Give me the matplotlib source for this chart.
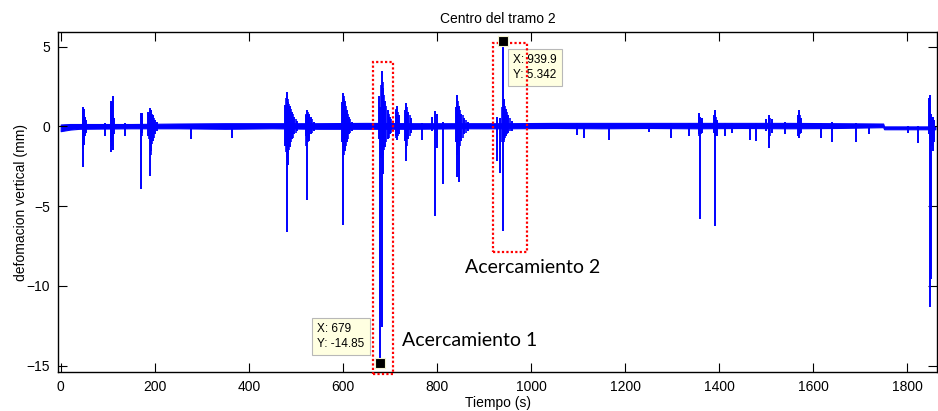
import matplotlib
matplotlib.use("Agg")
import matplotlib.pyplot as plt
from matplotlib.patches import Rectangle

# spikes: time (s), lowest and highest value (mm)
spike_t = [47, 49, 51, 54, 94, 106, 111, 113, 136, 170, 173, 186, 190, 193, 196, 200, 205,
           278, 364,
           478, 481, 484, 488, 492, 497, 503, 521, 523, 527, 532, 538,
           599, 601, 604, 608, 613, 620,
           676, 679, 683, 686, 690, 695, 700, 712, 715, 719, 732, 735, 739, 744,
           768, 790, 796, 800, 814, 840, 843, 848, 852, 858, 866,
           927, 935, 940, 943, 947, 952, 960,
           1097, 1113, 1165, 1250, 1297, 1337, 1357, 1359, 1363, 1390, 1392, 1396,
           1413, 1427, 1466, 1479, 1500, 1507, 1512, 1540, 1568, 1570, 1575,
           1616, 1641, 1692, 1718, 1802, 1823, 1847, 1849, 1851, 1855, 1858]
spike_lo = [-2.56, -1.14, -0.6, -0.4, -0.6, -1.6, -1.5, -0.5, -0.6, -3.9, -0.4, -0.6, -3.1, -1.56, -0.9, -0.5, -0.3,
            -0.8, -0.7,
            -1.2, -6.6, -2.4, -1.3, -0.8, -0.5, -0.3, -0.6, -4.6, -0.9, -0.5, -0.3,
            -1.0, -6.2, -1.56, -1.0, -0.5, -0.3,
            -0.8, -14.85, -12.6, -3.0, -1.3, -0.8, -0.5, -0.6, -0.83, -0.5, -0.9, -2.2, -0.8, -0.4,
            -0.83, -0.3, -5.6, -1.35, -3.64, -1.0, -3.2, -3.5, -0.9, -0.5, -0.3,
            -2.2, -2.9, -6.55, -0.83, -0.6, -0.4, -0.3,
            -0.52, -0.73, -0.83, -0.37, -0.73, -0.6, -0.5, -5.8, -0.4, -0.4, -6.25, -0.6,
            -0.6, -0.4, -0.83, -0.93, -0.3, -1.35, -0.4, -0.45, -0.6, -0.73, -0.4,
            -0.7, -0.98, -0.98, -0.45, -0.4, -1.04, -0.5, -11.3, -9.6, -1.56, -1.0]
spike_hi = [1.23, 1.1, 0.6, 0.4, 0.2, 1.6, 1.92, 0.5, 0.2, 0.85, 0.85, 0.9, 1.15, 1.0, 0.7, 0.4, 0.25,
            0.1, 0.1,
            1.35, 2.15, 1.5, 1.25, 0.9, 0.6, 0.35, 0.7, 1.04, 0.8, 0.6, 0.3,
            1.5, 2.09, 1.6, 1.0, 0.6, 0.3,
            1.9, 1.2, 3.5, 2.4, 1.6, 1.0, 0.6, 1.0, 1.3, 0.7, 1.0, 1.46, 0.9, 0.5,
            0.2, 0.6, 0.98, 0.8, 0.3, 1.2, 1.94, 1.3, 0.8, 0.5, 0.3,
            0.62, 0.5, 5.342, 1.73, 1.1, 0.7, 0.35,
            0.2, 0.15, 0.15, 0.15, 0.2, 0.2, 0.84, 0.6, 0.5, 0.7, 1.04, 0.4,
            0.2, 0.2, 0.15, 0.2, 0.45, 0.69, 0.45, 0.3, 0.7, 1.04, 0.5,
            0.2, 0.3, 0.2, 0.15, 0.0, 0.0, 1.8, 1.98, 0.8, 0.56, 0.4]

# smaller ringing after the big events
ring_t = [48, 50, 52, 108, 110, 112, 172, 188, 191, 192, 194, 198,
          480, 482, 483, 485, 486, 490, 494, 500, 522, 525, 529, 535,
          600, 602, 603, 606, 610, 616, 681, 685, 688, 692, 698, 703,
          714, 717, 734, 737, 742, 842, 845, 850, 855, 862, 939, 942, 945, 950, 956,
          1358, 1361, 1391, 1394, 1506, 1509, 1569, 1572, 1848, 1853]
ring_lo = [-1.4, -0.9, -0.5, -1.0, -1.2, -0.6, -0.6, -0.8, -1.8, -1.3, -1.1, -0.7,
           -1.6, -2.0, -1.7, -1.5, -1.2, -1.0, -0.7, -0.4, -1.2, -1.0, -0.7, -0.4,
           -1.3, -1.8, -1.4, -1.2, -0.8, -0.4, -2.0, -1.8, -1.5, -1.0, -0.7, -0.4,
           -0.7, -0.6, -1.4, -1.2, -0.6, -1.8, -1.5, -1.2, -0.7, -0.4, -1.0, -1.0, -0.7, -0.5, -0.3,
           -0.6, -0.5, -0.6, -0.5, -0.8, -0.6, -0.5, -0.5, -0.8, -1.2]
ring_hi = [1.0, 0.8, 0.5, 1.3, 1.5, 0.7, 0.6, 0.8, 1.0, 1.05, 0.8, 0.5,
           1.8, 1.9, 1.7, 1.4, 1.3, 1.1, 0.8, 0.45, 0.8, 0.9, 0.7, 0.45,
           1.8, 1.9, 1.7, 1.3, 0.8, 0.45, 2.6, 2.8, 2.0, 1.3, 0.8, 0.45,
           1.1, 0.9, 1.2, 1.2, 0.7, 1.5, 1.6, 1.0, 0.7, 0.4, 1.2, 1.5, 1.3, 0.9, 0.5,
           0.7, 0.5, 0.9, 0.6, 0.6, 0.55, 0.9, 0.7, 1.3, 0.6]

# noise band around zero
band_t = [0, 20, 40, 150, 250, 350, 450, 550, 650, 750, 850, 950, 1050, 1150, 1250,
          1350, 1450, 1550, 1650, 1749, 1751, 1860]
band_lo = [-0.3, -0.2, -0.15, -0.12, -0.12, -0.15, -0.12, -0.15, -0.15, -0.15, -0.12, -0.12,
           -0.1, -0.12, -0.1, -0.12, -0.1, -0.12, -0.1, -0.05, -0.18, -0.18]
band_hi = [0.12, 0.15, 0.15, 0.15, 0.18, 0.2, 0.2, 0.2, 0.22, 0.2, 0.2, 0.2,
           0.22, 0.22, 0.22, 0.22, 0.22, 0.22, 0.2, 0.18, 0.0, 0.0]

tips = [(679, -14.85), (939.9, 5.342)]

plt.rcParams['font.family'] = ['Liberation Sans', 'DejaVu Sans']
plt.rcParams['font.size'] = 10

fig = plt.figure(figsize=(9.38, 4.11), dpi=100)
ax = fig.add_axes([0.0622, 0.0949, 0.937, 0.8265])

ax.fill_between(band_t, band_lo, band_hi, color='blue', lw=0.8)
ax.vlines(ring_t, ring_lo, ring_hi, color='blue', lw=1.2)
ax.vlines(spike_t, spike_lo, spike_hi, color='blue', lw=1.4)

ax.set_xlim(-5, 1864)
ax.set_ylim(-15.4, 5.9)
ax.set_xticks(range(0, 1801, 200))
ax.set_yticks([-15, -10, -5, 0, 5])
ax.tick_params(direction='in', length=6.5, top=True, right=True, pad=6)
for s in ax.spines.values():
    s.set_linewidth(1.0)

ax.set_title('Centro del tramo 2', fontsize=10, pad=7)
ax.set_xlabel('Tiempo (s)', labelpad=1)
ax.set_ylabel('defomacion vertical (mm)', labelpad=-1)

# dotted zoom boxes
ax.add_patch(Rectangle((663.5, -15.55), 43.2, 19.6, fill=False, ec='red',
                       lw=1.6, ls=(0, (1, 1)), clip_on=False, zorder=5))
ax.add_patch(Rectangle((920, -7.85), 71, 13.1, fill=False, ec='red',
                       lw=1.6, ls=(0, (1, 1)), clip_on=False, zorder=5))

# data tips
tip_box = dict(boxstyle='square,pad=0.45', fc='#ffffe1', ec='#b8b8b8', lw=0.8)
ax.text(545.7, -13.18, 'X: %g\nY: %g' % tips[0], fontsize=8.5, va='center', ha='left',
        linespacing=1.35, bbox=tip_box, zorder=4)
ax.text(962.6, 3.7, 'X: %g\nY: %g' % tips[1], fontsize=8.5, va='center', ha='left',
        linespacing=1.35, bbox=tip_box, zorder=4)
for tx, ty in tips:
    ax.plot(tx, ty, 's', ms=6.5, mfc='black', mec='#f5f5d0', mew=0.8, zorder=6, clip_on=False)

ax.text(725, -13.75, 'Acercamiento 1', family=['Lato', 'DejaVu Sans'], fontsize=14, va='baseline')
ax.text(860, -9.21, 'Acercamiento 2', family=['Lato', 'DejaVu Sans'], fontsize=14, va='baseline')

fig.savefig('out.png', dpi=100)
